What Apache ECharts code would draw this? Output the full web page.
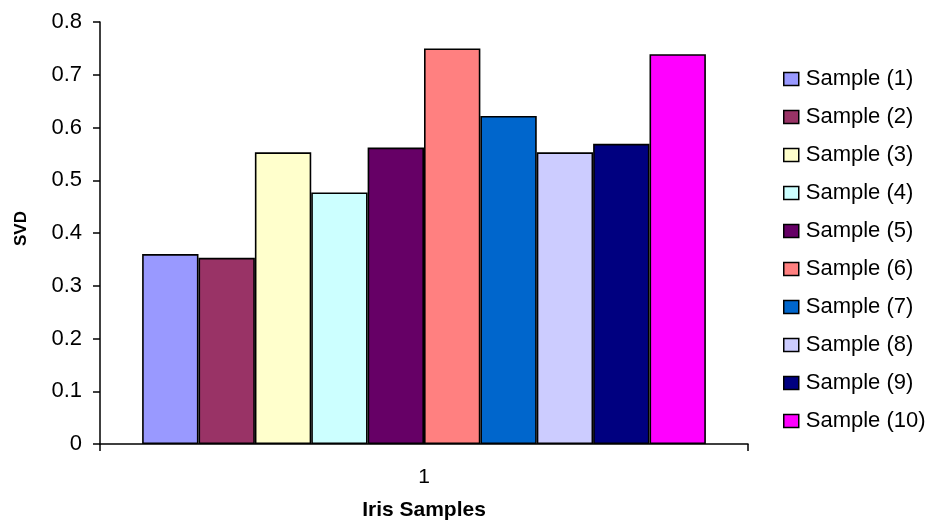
<!DOCTYPE html>
<html>
<head>
<meta charset="utf-8">
<script src="https://cdn.jsdelivr.net/npm/echarts@6/dist/echarts.min.js"></script>
<style>
html,body{margin:0;padding:0;background:#fff;}
#chart{width:933px;height:530px;}
</style>
</head>
<body>
<div id="chart"></div>
<script>
const categories = ['1'];
const seriesNames = ['Sample (1)','Sample (2)','Sample (3)','Sample (4)','Sample (5)','Sample (6)','Sample (7)','Sample (8)','Sample (9)','Sample (10)'];
const seriesValues = [0.360, 0.353, 0.553, 0.477, 0.562, 0.750, 0.622, 0.553, 0.569, 0.739];
const seriesColors = ['#9999FF','#993366','#FFFFCC','#CCFFFF','#660066','#FF8080','#0066CC','#CCCCFF','#000080','#FF00FF'];
const yTicks = [0, 0.1, 0.2, 0.3, 0.4, 0.5, 0.6, 0.7, 0.8];

const font = "'Liberation Sans', Arial, sans-serif";
const chart = echarts.init(document.getElementById('chart'), null, {renderer: 'canvas'});
const series = seriesNames.map((name, i) => ({
  name: name,
  type: 'bar',
  data: [seriesValues[i]],
  barGap: '0%',
  barCategoryGap: '13%',
  itemStyle: {color: seriesColors[i], borderColor: '#000', borderWidth: 1.6},
  emphasis: {disabled: true}
}));
chart.setOption({
  animation: false,
  backgroundColor: '#fff',
  textStyle: {fontFamily: font},
  grid: {left: 100, right: 185, top: 22, bottom: 86, containLabel: false},
  legend: {
    orient: 'vertical',
    left: 778,
    top: 63,
    itemWidth: 15,
    itemHeight: 13,
    itemGap: 16,
    icon: 'rect',
    itemStyle: {borderColor: '#000', borderWidth: 1.5},
    textStyle: {fontFamily: font, fontSize: 22, color: '#000', lineHeight: 22, padding: [0,0,0,2]},
    data: seriesNames
  },
  xAxis: {
    type: 'category',
    data: categories,
    name: 'Iris Samples',
    nameLocation: 'middle',
    nameGap: 56,
    nameTextStyle: {fontFamily: font, fontSize: 21, fontWeight: 'bold', color: '#000'},
    axisLine: {lineStyle: {color: '#000', width: 1.5}},
    axisTick: {show: true, length: 7, lineStyle: {color: '#000', width: 1.5}},
    axisLabel: {fontFamily: font, fontSize: 21, color: '#000', margin: 23}
  },
  yAxis: {
    type: 'value',
    min: 0,
    max: 0.8,
    interval: 0.1,
    name: 'SVD',
    nameLocation: 'middle',
    nameRotate: 90,
    nameGap: 70,
    nameTextStyle: {fontFamily: font, fontSize: 17, fontWeight: 'bold', color: '#000', padding: [0,0,0,9]},
    splitLine: {show: false},
    axisLine: {show: true, lineStyle: {color: '#000', width: 1.5}},
    axisTick: {show: true, length: 7, lineStyle: {color: '#000', width: 1.5}},
    axisLabel: {fontFamily: font, fontSize: 22, color: '#000', margin: 18,
      formatter: v => { const t = yTicks.find(x => Math.abs(x - v) < 1e-9); return t === undefined ? '' : String(t); }}
  },
  series: series
});
</script>
</body>
</html>
